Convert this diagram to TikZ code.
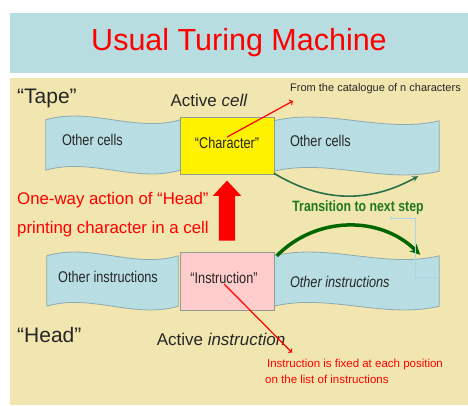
\documentclass[tikz,border=0pt]{standalone}
\usepackage{fontspec}
\setmainfont{Liberation Sans}
\newfontfamily\narrowfont[FakeStretch=0.82]{Liberation Sans}
\usetikzlibrary{shapes.arrows}
\usetikzlibrary{calc}

\definecolor{bandblue}{HTML}{B8DDE1}
\definecolor{panelbeige}{HTML}{F1E6AF}
\definecolor{tapeblue}{HTML}{B8DEE3}
\definecolor{tapeedge}{HTML}{8FA9B0}
\definecolor{celledge}{HTML}{8E9E92}
\definecolor{cellpink}{HTML}{FFCCCC}
\definecolor{stepgreen}{HTML}{1F7A1F}
\definecolor{arcgreen}{HTML}{2A7048}
\definecolor{hookblue}{HTML}{A9D6E6}

% wavy tape piece around an (empty) node
\newcommand{\wavebox}[1]{%
  \path[fill=tapeblue, draw=tapeedge, line width=0.8pt]
    (#1.north west)
    .. controls ($(#1.north west)!0.33!(#1.north east)+(0,13)$)
    and ($(#1.north west)!0.67!(#1.north east)+(0,-13)$) .. (#1.north east)
    -- (#1.south east)
    .. controls ($(#1.south west)!0.67!(#1.south east)+(0,-13)$)
    and ($(#1.south west)!0.33!(#1.south east)+(0,13)$) .. (#1.south west)
    -- cycle;}

\begin{document}
\begin{tikzpicture}[x=1pt, y=1pt,
    txt/.style={inner sep=0pt, text=black!85},
    small/.style={txt, font=\narrowfont\fontsize{15.5}{18}\selectfont},
    big/.style={txt, font=\fontsize{21}{25}\selectfont},
    mid/.style={txt, font=\fontsize{17}{20}\selectfont},
    note/.style={inner sep=0pt, text=red, align=left, font=\fontsize{11.5}{16}\selectfont},
    tapepart/.style={inner sep=0pt, minimum height=50pt},
    activebox/.style={draw=celledge, line width=0.8pt, inner sep=0pt, minimum width=94pt},
    redline/.style={->, red, line width=1.2pt}]
  \useasboundingbox (0,0) rectangle (468,405);

  \node[fill=bandblue, minimum width=458pt, minimum height=60pt, inner sep=0pt,
        text=red, font=\fontsize{30.5}{34}\selectfont] (title) at (239,362) {Usual Turing Machine};
  \node[fill=panelbeige, minimum width=458pt, minimum height=327pt, inner sep=0pt] (panel) at (239,163.5) {};

  % tape
  \node[tapepart, minimum width=134pt] (cellL) at (113,260) {};
  \node[tapepart, minimum width=165pt] (cellR) at (356.5,259) {};
  \wavebox{cellL}
  \wavebox{cellR}
  \node[activebox, fill=yellow, minimum height=57pt] (cellA) at (227,259.5) {};

  % list of instructions
  \node[tapepart, minimum width=131pt] (instL) at (112.5,124) {};
  \node[tapepart, minimum width=165pt] (instR) at (356.5,124) {};
  \wavebox{instL}
  \wavebox{instR}
  \node[activebox, fill=cellpink, minimum height=58pt] (instA) at (227,124) {};

  \node[small, anchor=west] (cellLtxt) at ([xshift=16pt,yshift=5pt]cellL.west) {Other cells};
  \node[small, anchor=west] (cellRtxt) at ([xshift=16pt,yshift=5pt]cellR.west) {Other cells};
  \node[small] (charT) at (227,262) {“Character”};
  \node[small] (instLtxt) at (108,128) {Other instructions};
  \node[small, anchor=west] (instRtxt) at ([xshift=16pt,yshift=-1pt]instR.west) {\itshape Other instructions};
  \node[small] (instT) at (224,127) {“Instruction”};

  \node[big, anchor=west] (tape) at (17,307) {“Tape”};
  \node[big, anchor=west] (head) at (17,70) {“Head”};
  \node[mid] (actcell) at (209,305) {Active \textit{cell}};
  \node[mid] (actinst) at (221,66) {Active \textit{instruction}};
  \node[inner sep=0pt, anchor=west, text=black!85, font=\fontsize{11}{13}\selectfont] (catalogue) at (290,316) {From the catalogue of n characters};
  \node[note, anchor=west] (fixed) at (265,34) {\,Instruction is fixed at each position\\on the list of instructions};
  \node[inner sep=0pt, anchor=west, text=red, align=left, font=\fontsize{16.8}{29}\selectfont] (oneway) at (17,190.5) {One-way action of “Head”\\printing character in a cell};
  \node[inner sep=0pt, text=stepgreen, font=\narrowfont\bfseries\fontsize{15}{18}\selectfont] (trans) at (358,197) {Transition to next step};

  \node[single arrow, fill=red, inner xsep=0pt, inner ysep=8pt, minimum height=60pt,
        single arrow head extend=6pt, single arrow tip angle=86, rotate=90] (push) at (227,190) {};

  \draw[redline] (charT.north) -- ([xshift=3pt,yshift=-12pt]catalogue.west);
  \draw[redline] (instT.south) -- ([xshift=27pt,yshift=6pt]fixed.north west);
  \draw[arcgreen, line width=1.6pt, -stealth] ([yshift=-2pt]cellR.south west) to[bend right=30] ([xshift=-21pt,yshift=-5pt]cellR.south east);
  \draw[green!40!black, line width=3.5pt, -stealth] ([xshift=3pt]instR.north west) to[bend left=45] ([xshift=-19pt,yshift=1pt]instR.north east);
  \coordinate (hookTip) at (390,187);
  \draw[hookblue, line width=0.7pt, ->] ([yshift=4pt]instR.east) -- ++(-24,0) |- (hookTip);
\end{tikzpicture}
\end{document}
